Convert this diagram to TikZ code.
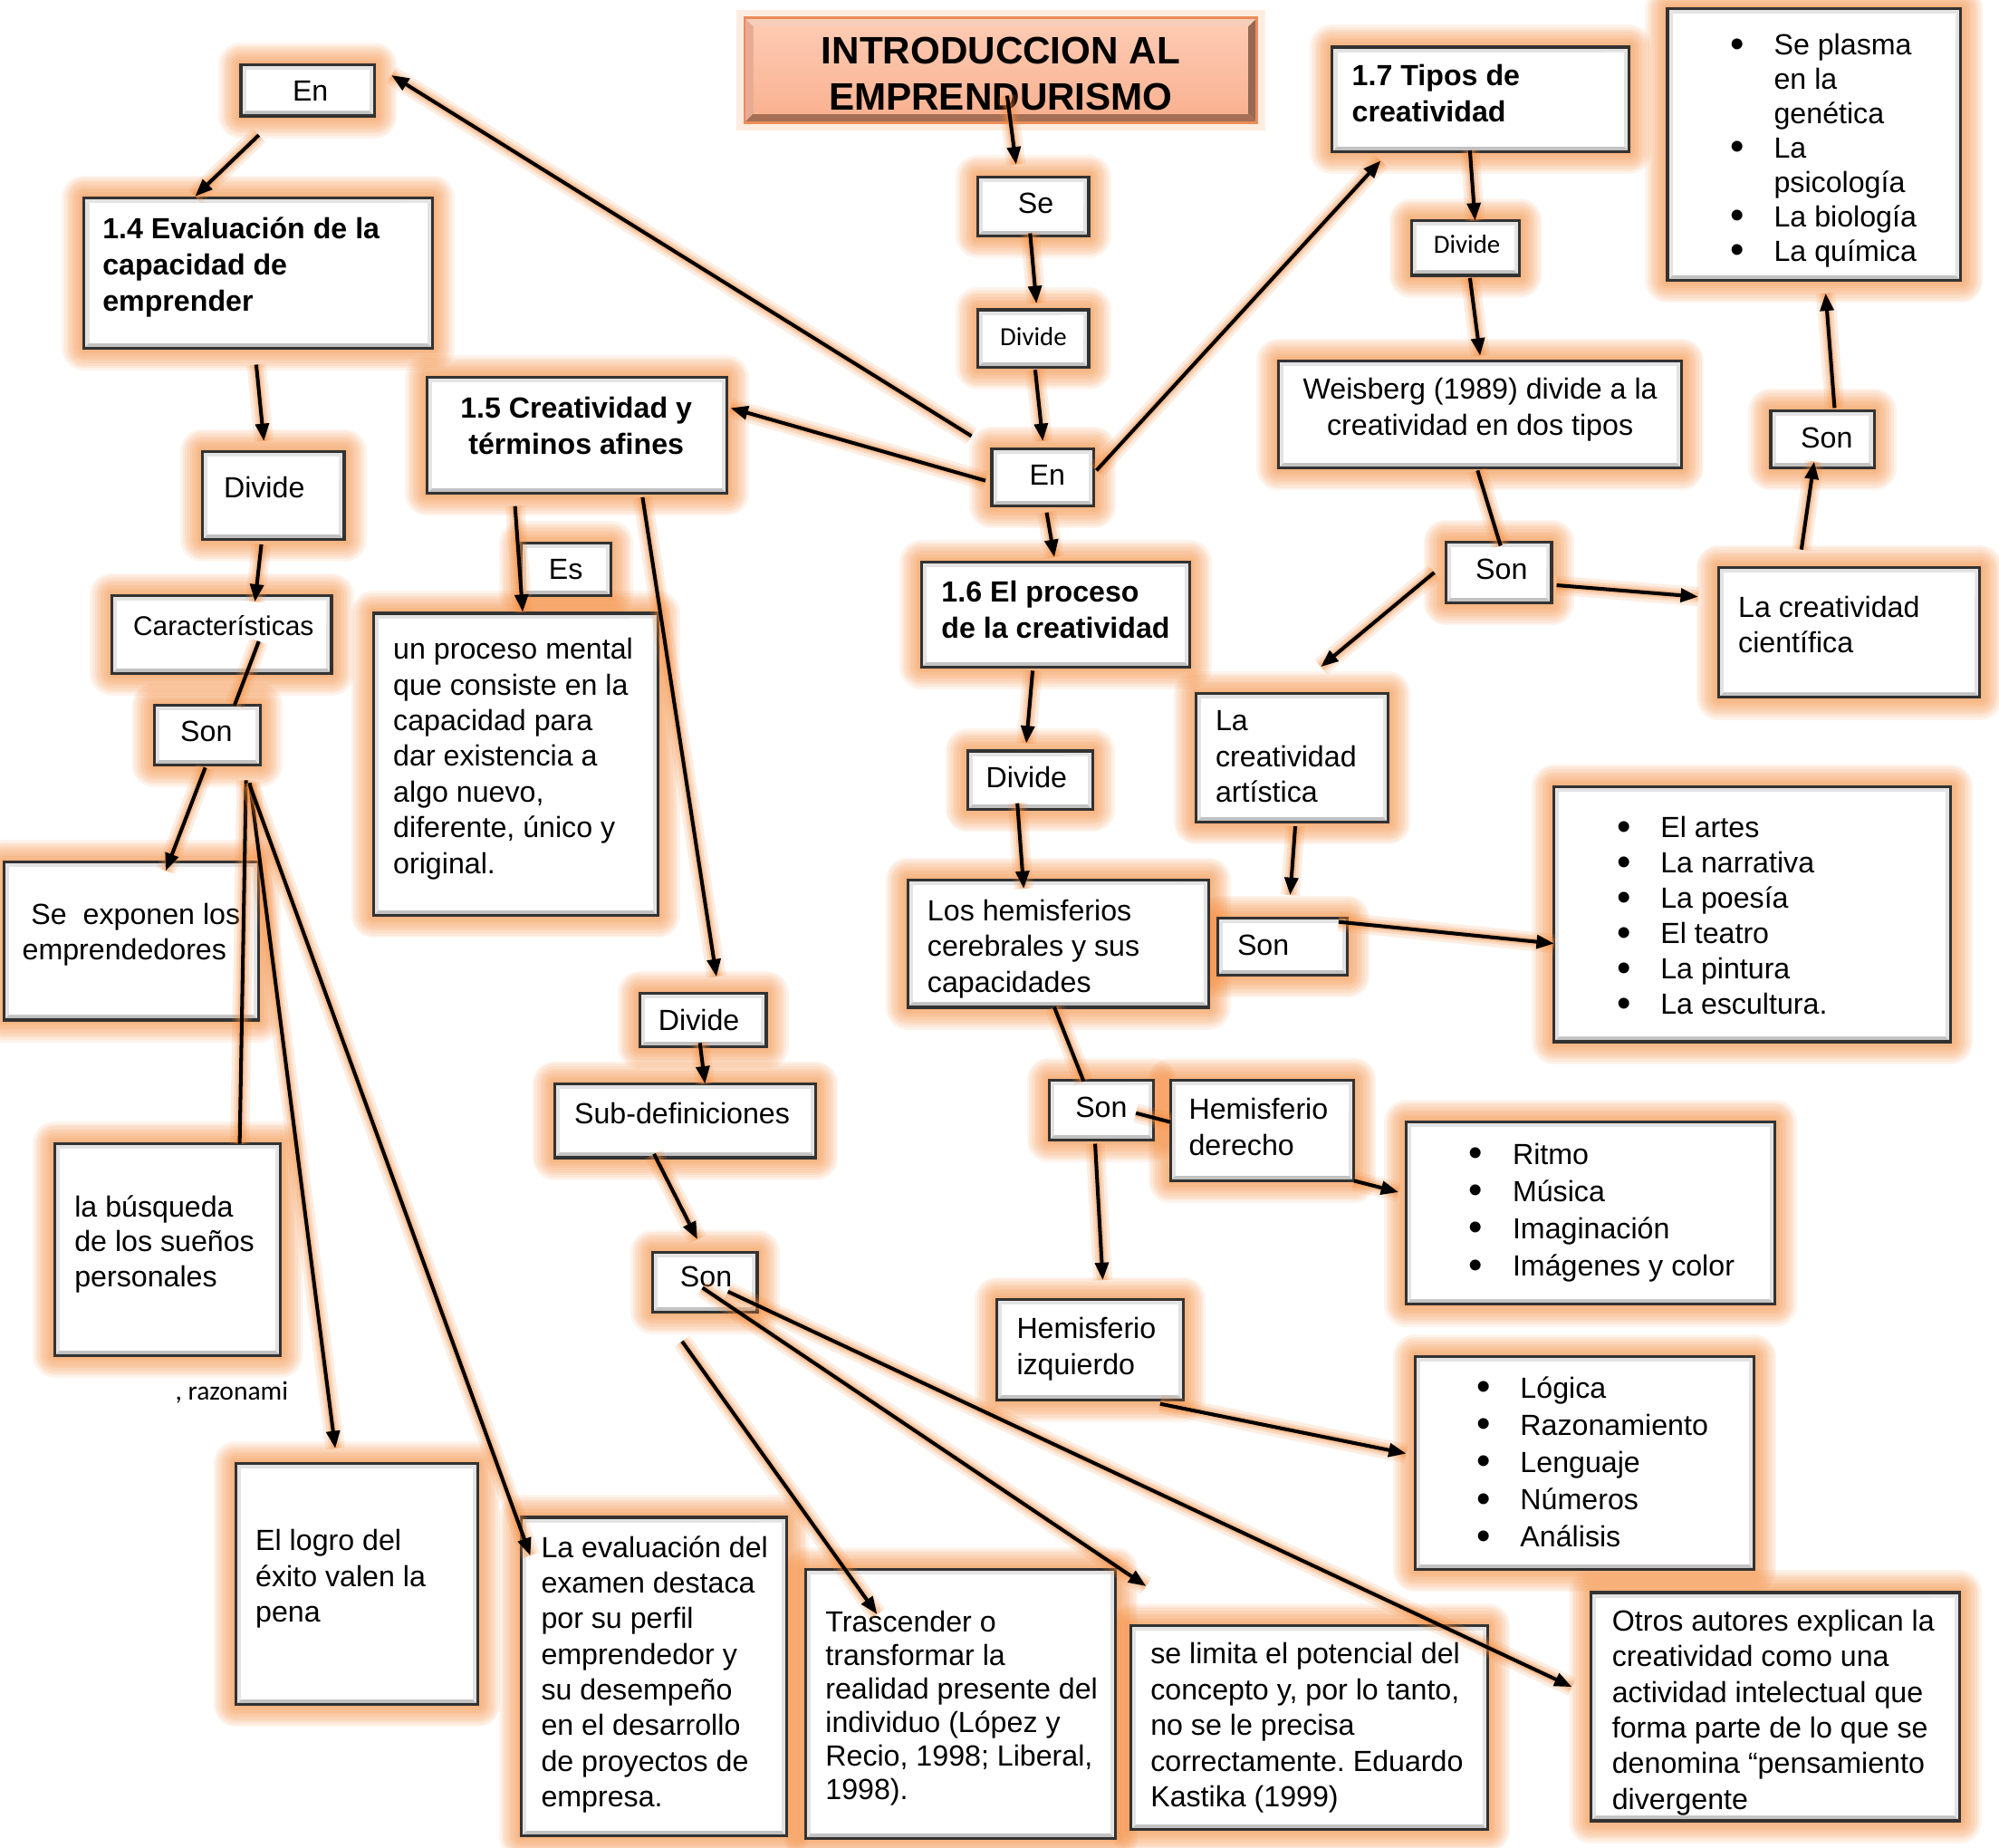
\documentclass[tikz,border=0pt]{standalone}
\usepackage{fontspec}
\setmainfont{Liberation Sans}
\newfontfamily\calib{Carlito}
\usetikzlibrary{fit,arrows.meta}
\pgfdeclarelayer{glow}
\pgfsetlayers{glow,main}
\definecolor{glowc}{RGB}{247,140,60}
\definecolor{edgec}{RGB}{50,50,50}
\definecolor{ttop}{RGB}{246,205,185}
\definecolor{tleft}{RGB}{232,172,148}
\definecolor{tright}{RGB}{150,105,85}
\definecolor{tbot}{RGB}{165,110,85}
\definecolor{tinA}{RGB}{253,202,178}
\definecolor{tinB}{RGB}{249,178,146}
\definecolor{tborder}{RGB}{235,140,90}
\frenchspacing
\newcommand\bul{\llap{\raisebox{-0.7pt}{\fontsize{12.5}{12.5}\selectfont\textbullet}\hspace{9.3pt}}}
\newcommand\mkbox[5]{%
 \begin{pgfonlayer}{glow}
  \foreach \gw in {14pt,12.5pt,11pt,9.5pt,8pt,6.5pt,5pt,3.5pt,2pt}{%
   \draw[glowc,line width=\gw,opacity=0.1,line join=round] (#2,#3) rectangle (#4,#5);}
 \end{pgfonlayer}
 \fill[gray!22] (#2,#3) rectangle (#4,#5);
 \fill[gray!48] (#2,#5) -- (#4,#5) -- ({#4-4},{#5-4}) -- ({#2+4},{#5-4}) -- cycle;
 \fill[white] ({#4-4},{#3+4}) -- ({#4-22},{#3+4}) -- ({#4-4},{#3+22}) -- cycle;
 \fill[white] ({#2+4},{#3+4}) rectangle ({#4-4},{#5-4});
 \draw[edgec,line width=0.9pt] (#2,#3) rectangle (#4,#5);
 \node[fit={(#2,#3) (#4,#5)},inner sep=0pt] (#1) {};
}
\newcommand\conn[6]{%
 \coordinate (#1s) at (#2,#3);
 \coordinate (#1e) at (#4,#5);
 \draw[#6] (#1s) -- (#1e);
}
\tikzset{
 tx/.style={inner sep=0pt, anchor=north west, align=left, font=\fontsize{9.15}{11.2}\selectfont},
 bold/.style={font=\fontsize{9.15}{11.4}\selectfont\bfseries},
 glw/.style={preaction={draw=glowc,line width=6pt,opacity=.15,-},preaction={draw=glowc,line width=4pt,opacity=.2,-},preaction={draw=glowc,line width=2.4pt,opacity=.3,-}},
 arr/.style={glw,line width=1.15pt,-{Triangle[length=5.5pt,width=4.2pt]}},
 ln/.style={glw,line width=1.15pt,-}
}
\begin{document}
\begin{tikzpicture}[x=0.014075cm,y=-0.014075cm]
\begin{pgfonlayer}{glow}
\fill[white] (0,0) rectangle (1568,1449);
\end{pgfonlayer}
\useasboundingbox (0,0) rectangle (1568,1449);

% ---------- title ----------
\begin{pgfonlayer}{glow}
 \draw[glowc,line width=5pt,opacity=.15] (584,14) rectangle (986,96);
\end{pgfonlayer}
\fill[ttop] (584,14) -- (986,14) -- (979,21) -- (591,21) -- cycle;
\fill[tleft] (584,14) -- (591,21) -- (591,89) -- (584,96) -- cycle;
\fill[tright] (986,14) -- (986,96) -- (979,89) -- (979,21) -- cycle;
\fill[tbot] (584,96) -- (591,89) -- (979,89) -- (986,96) -- cycle;
\shade[top color=tinA,bottom color=tinB] (591,21) rectangle (979,89);
\draw[tborder,line width=0.8pt] (584,14) rectangle (986,96);
\node[fit={(584,14) (986,96)},inner sep=0pt] (title) {};
\node[inner sep=0pt,align=center,font=\fontsize{12}{14.4}\selectfont\bfseries] (titletext) at (785,58) {INTRODUCCION AL\\EMPRENDURISMO};

% ---------- left column ----------
\mkbox{enA}{189}{51}{294}{91}
\node[tx] at (229,63) {En};
\mkbox{b14}{66}{155}{339}{273}
\node[tx,bold] at (80,170) {1.4 Evaluación de la\\capacidad de\\emprender};
\mkbox{divL}{159}{354}{270}{423}
\node[tx] at (175,373) {Divide};
\mkbox{car}{88}{467}{260}{528}
\node[tx,font=\fontsize{8.5}{10}\selectfont] at (104,482) {Características};
\mkbox{sonL}{121}{553}{204}{600}
\node[tx] at (141,565) {Son};
\mkbox{sex}{3}{676}{203}{800}
\node[tx] at (17,708) {\hspace*{2.8pt}Se\ \ exponen los\\emprendedores};
\mkbox{bus}{43}{897}{220}{1063}
\node[tx,font=\fontsize{9.15}{11}\selectfont] at (58,937) {la búsqueda\\de los sueños\\personales};
\node[inner sep=0pt,anchor=north west,font=\calib\fontsize{8.4}{10}\selectfont] (razon) at (137,1083) {, razonami};
\mkbox{logro}{185}{1148}{375}{1337}
\node[tx] at (200,1199) {El logro del\\éxito valen la\\pena};
\mkbox{eva}{409}{1190}{617}{1440}
\node[tx] at (424,1204) {La evaluación del\\examen destaca\\por su perfil\\emprendedor y\\su desempeño\\en el desarrollo\\de proyectos de\\empresa.};

% ---------- 1.5 branch ----------
\mkbox{b15}{335}{296}{570}{387}
\node[inner sep=0pt,anchor=north,align=center,font=\fontsize{9.15}{11.4}\selectfont\bfseries] at (452,311) {1.5 Creatividad y\\términos afines};
\mkbox{es}{409}{426}{479}{467}
\node[tx] at (430,438) {Es};
\mkbox{pro}{293}{481}{516}{718}
\node[tx] at (308,500) {un proceso mental\\que consiste en la\\capacidad para\\dar existencia a\\algo nuevo,\\diferente, único y\\original.};
\mkbox{divM}{502}{779}{601}{821}
\node[tx] at (516,791) {Divide};
\mkbox{sub}{435}{850}{640}{908}
\node[tx] at (450,864) {Sub-definiciones};
\mkbox{sonM}{512}{982}{594}{1029}
\node[tx] at (533,993) {Son};
\mkbox{tra}{632}{1231}{875}{1442}
\node[tx,font=\fontsize{9.15}{10.5}\selectfont] at (647,1263) {Trascender o\\transformar la\\realidad presente del\\individuo (López y\\Recio, 1998; Liberal,\\1998).};
\mkbox{lim}{887}{1275}{1167}{1435}
\node[tx] at (902,1288) {se limita el potencial del\\concepto y, por lo tanto,\\no se le precisa\\correctamente. Eduardo\\Kastika (1999)};
\mkbox{otr}{1248}{1249}{1537}{1428}
\node[tx] at (1264,1262) {Otros autores explican la\\creatividad como una\\actividad intelectual que\\forma parte de lo que se\\denomina “pensamiento\\divergente};

% ---------- centre column ----------
\mkbox{se}{767}{139}{854}{185}
\node[tx] at (798,151) {Se};
\mkbox{divT}{767}{243}{854}{288}
\node[inner sep=0pt,anchor=north west,font=\calib\fontsize{8.2}{10}\selectfont] at (784,256) {Divide};
\mkbox{enM}{778}{352}{858}{397}
\node[tx] at (807,364) {En};
\mkbox{b16}{723}{441}{933}{523}
\node[tx,bold] at (738,455) {1.6 El proceso\\de la creatividad};
\mkbox{div16}{759}{589}{857}{635}
\node[tx] at (773,601) {Divide};
\mkbox{hem}{712}{690}{948}{790}
\node[tx] at (727,705) {Los hemisferios\\cerebrales y sus\\capacidades};
\mkbox{sonH}{823}{847}{905}{894}
\node[tx] at (843,860) {Son};
\mkbox{hder}{918}{847}{1062}{926}
\node[tx] at (932,861) {Hemisferio\\derecho};
\mkbox{rit}{1103}{880}{1392}{1023}
\node[tx,font=\fontsize{9.15}{11.7}\selectfont] at (1186,896) {\bul Ritmo\\\bul Música\\\bul Imaginación\\\bul Imágenes y color};
\mkbox{hizq}{782}{1019}{928}{1098}
\node[tx] at (797,1033) {Hemisferio\\izquierdo};
\mkbox{logi}{1110}{1064}{1376}{1231}
\node[tx,font=\fontsize{9.15}{11.7}\selectfont] at (1192,1079) {\bul Lógica\\\bul Razonamiento\\\bul Lenguaje\\\bul Números\\\bul Análisis};

% ---------- right column ----------
\mkbox{b17}{1045}{37}{1278}{119}
\node[tx,bold] at (1060,50) {1.7 Tipos de\\creatividad};
\mkbox{div17}{1107}{173}{1192}{216}
\node[inner sep=0pt,anchor=north west,font=\calib\fontsize{8.2}{10}\selectfont] at (1124,184) {Divide};
\mkbox{wei}{1003}{283}{1319}{367}
\node[inner sep=0pt,anchor=north,align=center,font=\fontsize{9.15}{11.2}\selectfont] at (1161,296) {Weisberg (1989) divide a la\\creatividad en dos tipos};
\mkbox{sonW}{1134}{425}{1217}{473}
\node[tx] at (1157,438) {Son};
\mkbox{cie}{1348}{445}{1553}{547}
\node[tx] at (1363,467) {La creatividad\\científica};
\mkbox{art}{938}{544}{1089}{645}
\node[tx] at (953,557) {La\\creatividad\\artística};
\mkbox{sonA}{955}{720}{1057}{765}
\node[tx] at (970,733) {Son};
\mkbox{arts}{1219}{617}{1530}{817}
\node[tx,font=\fontsize{9.15}{11.1}\selectfont] at (1302,640) {\bul El artes\\\bul La narrativa\\\bul La poesía\\\bul El teatro\\\bul La pintura\\\bul La escultura.};
\mkbox{sonC}{1389}{322}{1470}{367}
\node[tx] at (1412,335) {Son};
\mkbox{pla}{1308}{7}{1538}{220}
\node[tx,font=\fontsize{9.15}{10.8}\selectfont] at (1391,26) {\bul Se plasma\\en la\\genética\\\bul La\\psicología\\\bul La biología\\\bul La química};

% ---------- connectors ----------
\conn{c1}{790}{75}{797}{129}{arr}
\conn{c2}{808}{183}{813}{238}{arr}
\conn{c3}{812}{290}{818}{346}{arr}
\conn{c4}{821}{402}{827}{437}{arr}
\conn{c5}{762}{342}{307}{59}{arr}
\conn{c6}{773}{377}{573}{320}{arr}
\conn{c7}{860}{369}{1083}{126}{arr}
\conn{c8}{203}{106}{153}{154}{arr}
\conn{c9}{201}{286}{207}{346}{arr}
\conn{c10}{205}{427}{200}{472}{arr}
\conn{c11}{203}{503}{184}{553}{ln}
\conn{c12}{161}{602}{130}{683}{arr}
\conn{c13}{193}{612}{188}{897}{ln}
\conn{c14}{196}{614}{263}{1136}{arr}
\conn{c15}{196}{616}{416}{1220}{arr}
\conn{c16}{404}{397}{410}{480}{arr}
\conn{c17}{504}{390}{562}{766}{arr}
\conn{c18}{549}{818}{553}{850}{arr}
\conn{c19}{513}{905}{547}{972}{arr}
\conn{c20}{535}{1052}{688}{1266}{arr}
\conn{c21}{551}{1010}{899}{1244}{arr}
\conn{c22}{571}{1013}{1233}{1323}{arr}
\conn{c23}{810}{526}{805}{583}{arr}
\conn{c24}{798}{630}{803}{697}{arr}
\conn{c25}{827}{790}{850}{848}{ln}
\conn{c26}{891}{873}{918}{880}{ln}
\conn{c27}{859}{897}{865}{1004}{arr}
\conn{c28}{1062}{926}{1097}{935}{arr}
\conn{c29}{910}{1101}{1103}{1140}{arr}
\conn{c30}{1153}{118}{1157}{173}{arr}
\conn{c31}{1153}{218}{1161}{279}{arr}
\conn{c32}{1159}{369}{1177}{428}{ln}
\conn{c33}{1221}{459}{1332}{468}{arr}
\conn{c34}{1125}{449}{1036}{523}{arr}
\conn{c35}{1016}{648}{1012}{702}{arr}
\conn{c36}{1050}{723}{1219}{740}{arr}
\conn{c37}{1413}{431}{1423}{362}{arr}
\conn{c38}{1439}{320}{1432}{230}{arr}
\end{tikzpicture}
\end{document}
